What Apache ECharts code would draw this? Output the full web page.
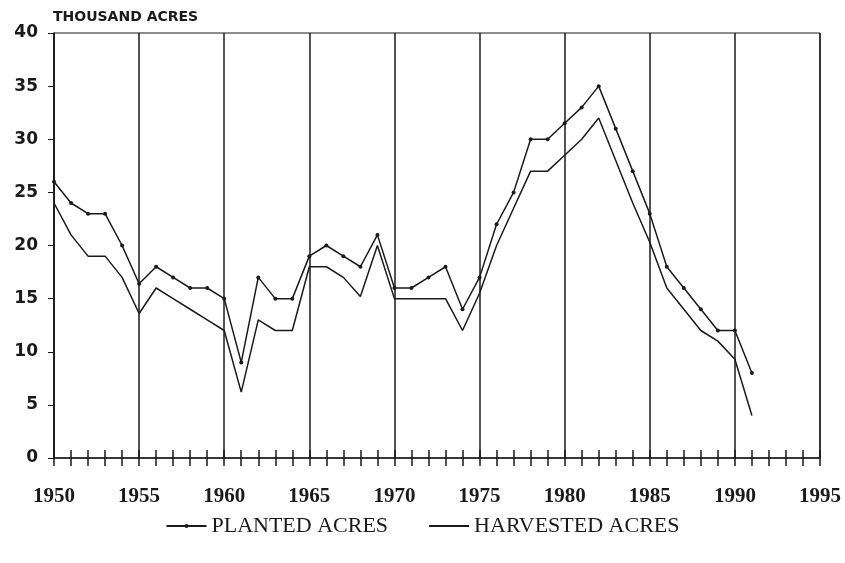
<!DOCTYPE html>
<html>
<head>
<meta charset="utf-8">
<script src="https://cdn.jsdelivr.net/npm/echarts@6/dist/echarts.min.js"></script>
<style>html,body{margin:0;padding:0;background:#fff;}#chart{width:845px;height:563px;}</style>
</head>
<body>
<div id="chart"></div>
<script>
const years = [1950,1951,1952,1953,1954,1955,1956,1957,1958,1959,1960,1961,1962,1963,1964,1965,1966,1967,1968,1969,1970,1971,1972,1973,1974,1975,1976,1977,1978,1979,1980,1981,1982,1983,1984,1985,1986,1987,1988,1989,1990,1991];
const planted = [26,24,23,23,20,16.4,18,17,16,16,15,9,17,15,15,19,20,19,18,21,16,16,17,18,14,17,22,25,30,30,31.5,33,35,31,27,23,18,16,14,12,12,8];
const harvested = [24,21,19,19,17,13.6,16,15,14,13,12,6.2,13,12,12,18,18,17,15.2,20,15,15,15,15,12,15.5,20,23.5,27,27,28.5,30,32,28,24,20.3,16,14,12,11,9.3,4];
const yTicks = {min:0, max:40, step:5};
const xRange = {min:1950, max:1995};
const seriesNames = ['PLANTED ACRES','HARVESTED ACRES'];
const yTitle = 'THOUSAND ACRES';

const chart = echarts.init(document.getElementById('chart'), null, {renderer:'canvas'});
const ink = '#1a1a1a';
const baseX = {type:'value', min:xRange.min, max:xRange.max, position:'bottom', gridIndex:0};
chart.setOption({
  animation:false,
  backgroundColor:'#fff',
  title:{text:yTitle, left:53, top:10, padding:0, textStyle:{fontFamily:'DejaVu Sans', fontWeight:'bold', fontSize:14, color:ink}},
  grid:{left:54, right:25, top:33, bottom:105, show:true, borderColor:ink, borderWidth:1, containLabel:false},
  xAxis:[
    Object.assign({}, baseX, {interval:1,
      axisLine:{show:true, lineStyle:{color:ink, width:1.5}},
      axisTick:{show:true, inside:false, length:8, lineStyle:{color:ink, width:1.5}},
      axisLabel:{show:true, margin:28, fontFamily:'Liberation Serif', fontWeight:'bold', fontSize:21, color:ink,
        formatter:v => (v % 5 === 0 ? String(v) : '')},
      splitLine:{show:false}}),
    Object.assign({}, baseX, {interval:1,
      axisLine:{show:false},
      axisTick:{show:true, inside:true, length:8, lineStyle:{color:ink, width:1.5}},
      axisLabel:{show:false}, splitLine:{show:false}}),
    Object.assign({}, baseX, {interval:5,
      axisLine:{show:false}, axisTick:{show:false}, axisLabel:{show:false},
      splitLine:{show:true, lineStyle:{color:ink, width:1.5}}})
  ],
  yAxis:{type:'value', min:yTicks.min, max:yTicks.max, interval:yTicks.step,
    axisLine:{show:true, lineStyle:{color:ink, width:1.5}},
    axisTick:{show:true, inside:false, length:6, lineStyle:{color:ink, width:1}},
    axisLabel:{margin:16, fontFamily:'DejaVu Sans', fontWeight:'bold', fontSize:17, color:ink},
    splitLine:{show:false}},
  legend:{left:'center', top:510, itemWidth:40, itemHeight:5, itemGap:40,
    textStyle:{fontFamily:'Liberation Serif', fontSize:22, color:ink},
    data:seriesNames},
  series:[
    {name:seriesNames[0], type:'line', xAxisIndex:0, data:years.map((y,i)=>[y,planted[i]]),
      symbol:'circle', symbolSize:4, showSymbol:true,
      lineStyle:{color:ink, width:1.5}, itemStyle:{color:ink}},
    {name:seriesNames[1], type:'line', xAxisIndex:0, data:years.map((y,i)=>[y,harvested[i]]),
      symbol:'line', symbolSize:4, showSymbol:false,
      lineStyle:{color:ink, width:1.5}, itemStyle:{color:ink}}
  ]
});
</script>
</body>
</html>
